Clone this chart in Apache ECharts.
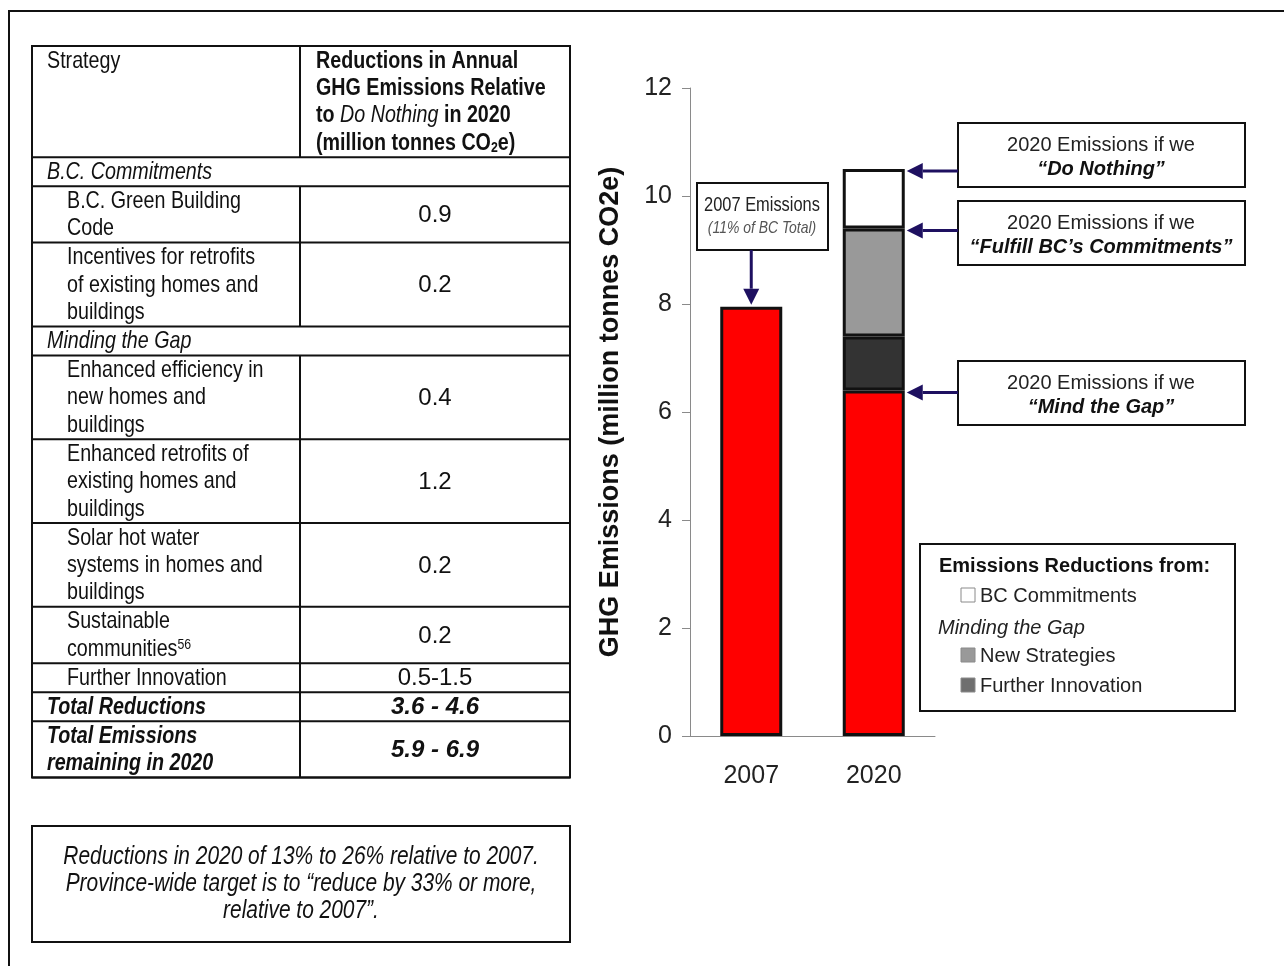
<!DOCTYPE html>
<html>
<head>
<meta charset="utf-8">
<title>Residential GHG Emissions</title>
<script src="https://cdn.jsdelivr.net/npm/echarts@6/dist/echarts.min.js"></script>
<style>
  html, body { margin: 0; padding: 0; background: #fff; }
  #chart { width: 1284px; height: 966px; }
</style>
</head>
<body>
<div id="chart"></div>
<script>
// ---- Data ---------------------------------------------------------------
const years = ['2007', '2020'];
const remaining = [7.95, 6.4];          // red: emissions left after all measures
const furtherInnovation = ['-', 1.0];   // dark grey
const newStrategies = ['-', 2.0];       // mid grey
const bcCommitments = ['-', 1.1];       // white

const yTicks = { min: 0, max: 12, step: 2 };

const headerStrategy = ['Strategy'];
const headerReduction = [
  '{b|Reductions in Annual}',
  '{b|GHG Emissions Relative}',
  '{b|to }{i|Do Nothing}{b| in 2020}',
  '{b|(million tonnes CO}{sub|2}{b|e)}'
];
const strategyLabels = [
  ['B.C. Commitments'],
  ['B.C. Green Building', 'Code'],
  ['Incentives for retrofits', 'of existing homes and', 'buildings'],
  ['Minding the Gap'],
  ['Enhanced efficiency in', 'new homes and', 'buildings'],
  ['Enhanced retrofits of', 'existing homes and', 'buildings'],
  ['Solar hot water', 'systems in homes and', 'buildings'],
  ['Sustainable', 'communities{sup|56}'],
  ['Further Innovation'],
  ['Total Reductions'],
  ['Total Emissions', 'remaining in 2020']
];
const strategyValues = ['', '0.9', '0.2', '', '0.4', '1.2', '0.2', '0.2', '0.5-1.5', '3.6 - 4.6', '5.9 - 6.9'];
const rowKinds = ['section', 'item', 'item', 'section', 'item', 'item', 'item', 'item', 'item', 'total', 'total'];

const noteLines = [
  'Reductions in 2020 of 13% to 26% relative to 2007.',
  'Province-wide target is to \u201creduce by 33% or more,',
  'relative to 2007\u201d.'
];

const calloutTitles = ['2020 Emissions if we', '2020 Emissions if we', '2020 Emissions if we'];
const calloutQuotes = ['\u201cDo Nothing\u201d', '\u201cFulfill BC\u2019s Commitments\u201d', '\u201cMind the Gap\u201d'];

const baseNote = ['2007 Emissions', '(11% of BC Total)'];

const legendTitle = 'Emissions Reductions from:';
const legendGroup = 'Minding the Gap';
const legendItems = ['BC Commitments', 'New Strategies', 'Further Innovation'];

// ---- Fonts --------------------------------------------------------------
const SANS = '"Liberation Sans", Arial, Helvetica, sans-serif';
function fontAvailable(name) {
  const ctx = document.createElement('canvas').getContext('2d');
  const s = 'abcdefghijklmnopqrstuvwxyz ABCDEFGHIJ 0123456789';
  ctx.font = '40px monospace';
  const a = ctx.measureText(s).width;
  ctx.font = '40px "' + name + '", monospace';
  const b = ctx.measureText(s).width;
  return Math.abs(a - b) > 0.5;
}
const hasNarrow = fontAvailable('Liberation Sans Narrow');
const NARROW = hasNarrow ? '"Liberation Sans Narrow", "Arial Narrow", sans-serif' : SANS;
const NARROW_SCALE = hasNarrow ? 1 : 0.82;

// ---- Chart --------------------------------------------------------------
const COLORS = { remain: '#ff0000', innov: '#333333', newStrat: '#999999', bc: '#ffffff' };
const barBorder = { borderColor: '#111111', borderWidth: 3 };
const AXIS_GREY = '#8a8a8a';

const chart = echarts.init(document.getElementById('chart'), null, { renderer: 'canvas' });

function barSeries(name, data, color) {
  return {
    name: name,
    type: 'bar',
    stack: 'total',
    data: data,
    barWidth: 62,
    itemStyle: Object.assign({ color: color }, barBorder),
    emphasis: { disabled: true }
  };
}

chart.setOption({
  animation: false,
  backgroundColor: '#ffffff',
  textStyle: { fontFamily: SANS },
  grid: { left: 690, top: 88, width: 245, height: 648 },
  xAxis: {
    type: 'category',
    data: years,
    axisLine: { lineStyle: { color: AXIS_GREY, width: 1 } },
    axisTick: { length: 8, lineStyle: { color: AXIS_GREY } },
    axisLabel: { fontSize: 25, color: '#222', margin: 28, fontFamily: SANS }
  },
  yAxis: {
    type: 'value',
    min: yTicks.min,
    max: yTicks.max,
    interval: yTicks.step,
    name: 'GHG Emissions (million tonnes CO2e)',
    nameLocation: 'middle',
    nameGap: 66,
    nameTextStyle: { fontSize: 27, fontWeight: 'bold', color: '#111', fontFamily: SANS },
    axisLine: { show: true, lineStyle: { color: AXIS_GREY, width: 1 } },
    axisTick: { show: true, length: 8, lineStyle: { color: AXIS_GREY } },
    splitLine: { show: false },
    axisLabel: { fontSize: 25, color: '#222', margin: 18, fontFamily: SANS }
  },
  series: [
    barSeries('Remaining', remaining, COLORS.remain),
    barSeries('Further Innovation', furtherInnovation, COLORS.innov),
    barSeries('New Strategies', newStrategies, COLORS.newStrat),
    barSeries('BC Commitments', bcCommitments, COLORS.bc)
  ]
});

// ---- Overlay: table, notes, callouts, legend -------------------------------
const els = [];
const INK = '#111';

function text(x, y, str, o) {
  o = o || {};
  const fam = o.narrow ? NARROW : SANS;
  const size = o.size || 24;
  const weight = o.weight || 'normal';
  const style = o.italic ? 'italic' : 'normal';
  const tok = (w, s, sz, va) => ({ fontFamily: fam, fontSize: sz || size, fontWeight: w, fontStyle: s, fill: o.color || INK, verticalAlign: va || 'middle' });
  els.push({
    type: 'text', x: x, y: y, z: 100,
    scaleX: o.narrow ? NARROW_SCALE : 1,
    silent: true,
    style: {
      text: str,
      fontFamily: fam, fontSize: size, fontWeight: weight, fontStyle: style,
      fill: o.color || INK,
      align: o.align || 'left',
      verticalAlign: 'middle',
      rich: {
        n: tok(weight, style),
        b: tok('bold', style),
        i: tok('normal', 'italic'),
        sub: tok(weight, style, Math.round(size * 0.62), 'bottom'),
        sup: tok(weight, style, Math.round(size * 0.62), 'top')
      }
    }
  });
}
function line(x1, y1, x2, y2, color, w) {
  els.push({ type: 'line', z: 90, silent: true, shape: { x1: x1, y1: y1, x2: x2, y2: y2 }, style: { stroke: color || INK, lineWidth: w || 2 } });
}
function box(x, y, w, h, o) {
  o = o || {};
  els.push({ type: 'rect', z: 90, silent: true, shape: { x: x, y: y, width: w, height: h }, style: { fill: o.fill || 'none', stroke: o.stroke || INK, lineWidth: o.lw || 2 } });
}
function arrow(x1, y1, x2, y2) {
  const NAVY = '#1e1060';
  const len = 16, half = 8;
  const dx = x2 - x1, dy = y2 - y1, d = Math.hypot(dx, dy);
  const ux = dx / d, uy = dy / d;
  const bx = x2 - ux * len, by = y2 - uy * len;
  els.push({ type: 'line', z: 110, silent: true, shape: { x1: x1, y1: y1, x2: bx, y2: by }, style: { stroke: NAVY, lineWidth: 3 } });
  els.push({ type: 'polygon', z: 110, silent: true, shape: { points: [[x2, y2], [bx - uy * half, by + ux * half], [bx + uy * half, by - ux * half]] }, style: { fill: NAVY } });
}

// page frame
box(9, 11, 1400, 1100, { lw: 2 });

// table
const T = { x0: 32, x1: 570, div: 300, top: 46, lineH: 27.4, pad: 1.6, labelX: 47, indentX: 67, headX: 316, valX: 435 };
const rowH = n => n * T.lineH + T.pad;
let y = T.top;
const hH = rowH(headerReduction.length);
headerStrategy.forEach((s, i) => text(T.labelX, y + 15 + i * T.lineH, s, { narrow: true }));
headerReduction.forEach((s, i) => text(T.headX, y + 15 + i * T.lineH, s, { narrow: true, weight: 'bold' }));
line(T.div, y, T.div, y + hH);
y += hH;
line(T.x0, y, T.x1, y);
strategyLabels.forEach((lines, r) => {
  const kind = rowKinds[r];
  const h = rowH(lines.length);
  const lx = kind === 'item' ? T.indentX : T.labelX;
  lines.forEach((s, i) => text(lx, y + 15 + i * T.lineH, s, {
    narrow: true,
    italic: kind !== 'item',
    weight: kind === 'total' ? 'bold' : 'normal'
  }));
  if (kind !== 'section') {
    line(T.div, y, T.div, y + h);
    text(T.valX, y + h / 2 + 1, strategyValues[r], {
      align: 'center',
      italic: kind === 'total',
      weight: kind === 'total' ? 'bold' : 'normal'
    });
  }
  y += h;
  line(T.x0, y, T.x1, y);
});
box(T.x0, T.top, T.x1 - T.x0, y - T.top);

// note box under the table
box(32, 826, 538, 116);
noteLines.forEach((s, i) => text(301, 857 + i * 27.2, s, { narrow: true, italic: true, align: 'center', size: 25.5 }));

// data-anchored annotations
const px = (cat, v) => chart.convertToPixel({ xAxisIndex: 0, yAxisIndex: 0 }, [cat, v]);
const num = v => (typeof v === 'number' ? v : 0);
const total2020 = num(remaining[1]) + num(furtherInnovation[1]) + num(newStrategies[1]) + num(bcCommitments[1]);
const levels2020 = [total2020, total2020 - num(bcCommitments[1]), num(remaining[1])];
const barHalf = 31;

// 2007 callout
const p2007 = px(years[0], remaining[0]);
box(697, 183, 131, 67, { fill: '#fff' });
text(762, 205, baseNote[0], { narrow: true, size: 20, color: '#222', align: 'center' });
text(762, 228, baseNote[1], { narrow: true, size: 17, italic: true, color: '#555', align: 'center' });
arrow(p2007[0], 250, p2007[0], p2007[1] - 2);

// 2020 callouts
const calloutTops = [123, 201, 361];
calloutTitles.forEach((t, i) => {
  const top = calloutTops[i];
  box(958, top, 287, 64, { fill: '#fff' });
  text(1101, top + 22, t, { size: 20, color: '#222', align: 'center' });
  text(1101, top + 46, calloutQuotes[i], { size: 20, weight: 'bold', italic: true, color: '#111', align: 'center' });
  const p = px(years[1], levels2020[i]);
  arrow(958, p[1] + 2, p[0] + barHalf + 2, p[1] + 2);
});

// legend
box(920, 544, 315, 167, { fill: '#fff' });
text(939, 566, legendTitle, { size: 20, weight: 'bold', color: '#111' });
const swatch = (yy, c) => box(961, yy - 7, 14, 14, { fill: c, stroke: '#8a8a8a', lw: 1 });
swatch(595, COLORS.bc);
text(980, 596, legendItems[0], { size: 20, color: '#222' });
text(938, 628, legendGroup, { size: 20, italic: true, color: '#222' });
swatch(655, COLORS.newStrat);
text(980, 656, legendItems[1], { size: 20, color: '#222' });
swatch(685, '#6f6f6f');
text(980, 686, legendItems[2], { size: 20, color: '#222' });

chart.setOption({ graphic: { elements: els } });
</script>
</body>
</html>
